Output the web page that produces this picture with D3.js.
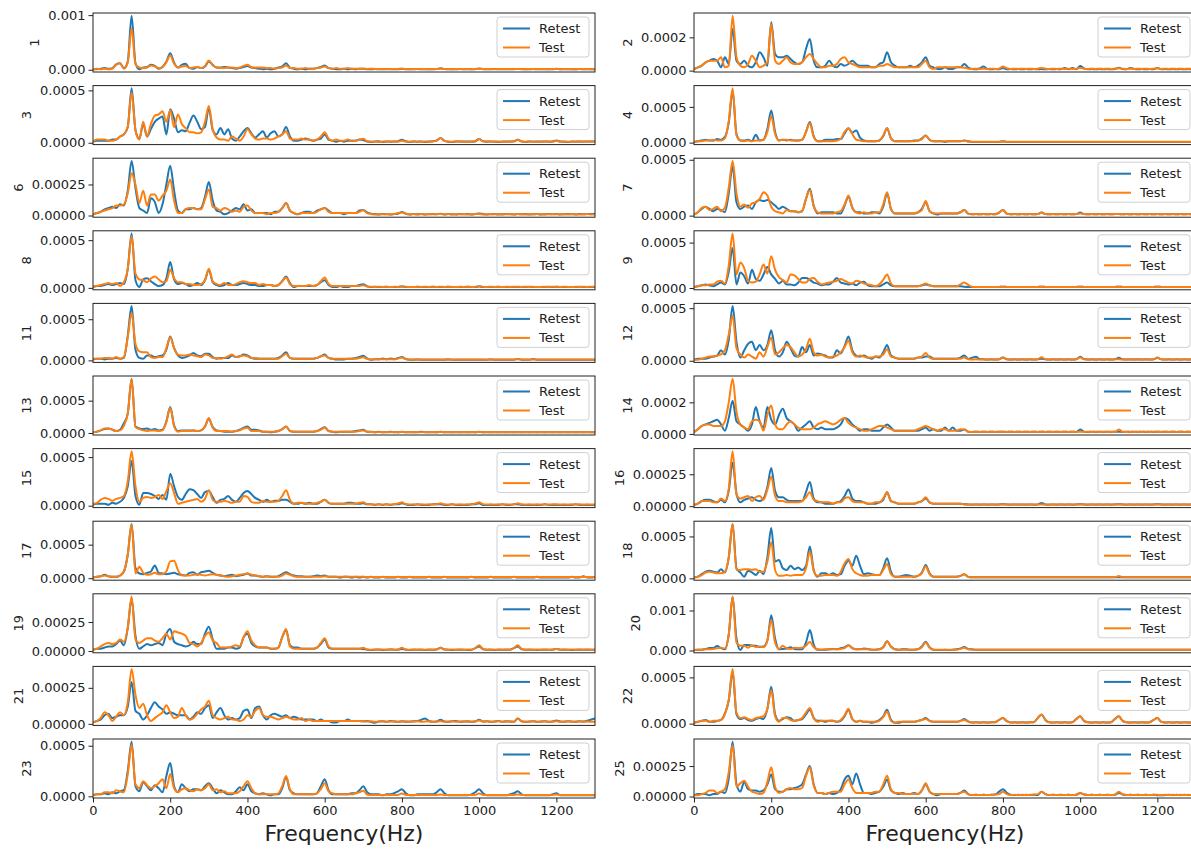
<!DOCTYPE html>
<html>
<head>
<meta charset="utf-8">
<script src="https://cdn.jsdelivr.net/npm/d3@7"></script>
<style>
  body { margin: 0; background: #fff; }
  text { font-family: "DejaVu Sans", sans-serif; }
</style>
</head>
<body>
<svg id="chart" width="1191" height="850"></svg>
<script>
// Spectra are sampled every 10 Hz from 0 to 1300 Hz; amplitudes are in micro-units (x 1e-6).
const UNIT = 1e-6;
const freqs = d3.range(0, 1310, 10);
const xTickValues = [0, 200, 400, 600, 800, 1000, 1200];
const seriesNames = ["Retest", "Test"];
const seriesColors = ["#1f77b4", "#ff7f0e"];

const leftIds = [1, 3, 6, 8, 11, 13, 15, 17, 19, 21, 23];
const rightIds = [2, 4, 7, 9, 12, 14, 16, 18, 20, 22, 25];

const yTickLabels = {
  1: ["0.000", "0.001"], 2: ["0.0000", "0.0002"], 3: ["0.0000", "0.0005"], 4: ["0.0000", "0.0005"],
  6: ["0.00000", "0.00025"], 7: ["0.0000", "0.0005"], 8: ["0.0000", "0.0005"], 9: ["0.0000", "0.0005"],
  11: ["0.0000", "0.0005"], 12: ["0.0000", "0.0005"], 13: ["0.0000", "0.0005"], 14: ["0.0000", "0.0002"],
  15: ["0.0000", "0.0005"], 16: ["0.00000", "0.00025"], 17: ["0.0000", "0.0005"], 18: ["0.0000", "0.0005"],
  19: ["0.00000", "0.00025"], 20: ["0.000", "0.001"], 21: ["0.00000", "0.00025"], 22: ["0.0000", "0.0005"],
  23: ["0.0000", "0.0005"], 25: ["0.00000", "0.00025"]
};

// ---- left column ----
const retest1 = [10,10,20,30,20,30,100,120,30,150, 990,120,10,40,50,90,70,20,50,150, 300,130,40,90,110,30,20,50,30,60, 150,90,40,40,50,40,30,20,30,50, 70,40,30,20,10,20,10,20,40,60, 120,40,20,10,20,10,20,20,30,50, 80,30,20,10,10,20,10,20,10,20, 20,10,8,12,10,8,12,10,8,10, 20,10,8,10,12,10,8,10,10,15, 28,12,8,10,10,12,10,8,10,10, 24,10,8,10,12,10,8,10,10,10, 15,10,8,10,12,10,10,8,10,10, 18,10,8,10,10,10,12,8,10,10, 10];
const test1 = [10,20,10,20,10,20,90,120,20,130, 760,100,40,30,40,80,60,30,50,140, 260,110,40,60,70,30,40,50,30,70, 170,80,40,30,30,40,40,30,40,70, 90,50,40,40,40,30,30,20,30,40, 80,30,30,20,20,30,20,20,30,40, 60,30,20,30,20,20,30,20,20,20, 20,15,20,14,12,15,10,14,12,15, 18,14,10,14,16,12,14,10,12,16, 18,15,14,10,14,16,12,14,10,14, 16,14,12,15,10,14,12,15,12,14, 16,14,10,14,15,12,14,14,10,15, 14,10,14,15,12,10,14,12,14,10, 10];

const retest3 = [10,20,20,20,20,30,30,60,80,150, 520,120,40,180,60,130,200,230,250,80, 320,230,100,120,110,190,260,200,130,150, 330,120,80,140,80,130,40,20,60,110, 140,90,50,80,110,50,90,110,60,80, 150,60,20,20,30,40,30,20,30,40, 80,30,20,10,20,10,20,20,20,30, 25,12,8,12,14,8,12,10,12,15, 28,14,8,12,10,12,8,12,14,22, 45,18,10,8,12,12,10,12,10,15, 35,14,10,12,10,8,12,10,12,14, 28,12,8,12,10,12,10,12,10,12, 22,12,10,8,12,10,12,10,12,12, 12];
const test3 = [10,30,30,30,20,20,30,60,80,150, 480,120,30,200,60,180,260,270,300,200, 310,150,270,180,140,100,100,90,100,200, 350,130,50,30,30,20,60,40,20,60, 130,80,40,30,40,40,30,40,60,80, 110,40,30,30,40,30,30,20,30,60, 100,40,20,30,20,20,30,20,20,30, 38,15,12,10,8,12,10,12,10,12, 18,12,10,12,10,8,12,10,12,20, 45,18,12,10,12,10,12,8,12,12, 35,14,12,10,12,12,8,12,10,12, 28,12,10,12,10,8,12,10,12,12, 18,10,12,10,8,12,10,12,10,12, 12];

const retest6 = [10,20,30,50,60,70,60,90,80,200, 440,220,60,40,20,140,110,20,90,250, 400,200,40,20,50,50,60,50,60,150, 270,120,40,30,10,20,40,60,50,90, 40,50,20,20,20,20,10,30,30,60, 100,40,20,10,20,30,30,20,40,50, 60,40,20,20,20,10,20,20,20,40, 45,25,15,12,8,12,10,8,12,15, 28,14,8,12,10,12,8,10,12,10, 14,8,12,10,8,12,10,12,8,12, 16,12,8,10,12,8,10,12,10,8, 12,10,12,8,10,12,8,10,12,10, 12,8,10,12,10,8,12,10,12,12, 14];
const test6 = [10,20,30,40,50,60,80,80,90,180, 340,250,100,200,80,170,170,120,160,200, 290,120,20,20,50,60,60,50,50,130, 210,70,60,40,60,50,30,40,30,70, 80,40,20,20,20,10,20,20,30,60, 100,40,20,10,20,20,20,20,30,50, 60,30,20,20,20,20,20,20,20,30, 42,18,12,8,12,10,12,10,12,20, 25,14,10,12,8,12,10,12,10,12, 12,10,12,8,12,10,12,8,10,12, 12,8,10,12,10,12,8,10,12,10, 12,10,8,12,10,12,10,8,10,12, 10,12,10,8,12,10,8,10,12,8, 8];

const retest8 = [10,20,20,30,40,30,40,50,40,200, 570,80,10,90,100,70,40,20,30,100, 270,90,40,50,40,20,30,50,30,80, 190,60,30,20,30,50,30,30,40,50, 40,30,30,20,20,30,30,20,30,70, 120,50,10,20,20,20,20,20,30,60, 80,30,10,10,20,10,10,20,20,30, 38,16,8,12,8,8,12,8,8,8, 14,8,8,8,12,8,8,8,12,8, 8,8,12,8,8,8,8,12,8,8, 14,8,8,8,8,12,8,8,8,8, 8,8,8,12,8,8,8,8,12,8, 12,8,8,8,8,8,12,8,8,8, 8];
const test8 = [10,20,30,40,50,40,50,20,60,200, 540,150,90,80,60,100,120,90,60,70, 190,100,60,60,40,40,30,30,40,80, 200,70,40,30,50,30,30,40,60,70, 60,50,50,30,40,30,30,20,30,70, 110,40,20,20,20,20,30,20,30,70, 110,40,20,20,20,20,20,20,20,20, 28,14,12,10,12,10,12,8,12,10, 18,12,10,8,12,10,12,10,12,10, 12,10,12,10,8,12,10,12,10,12, 20,12,10,12,10,12,8,12,10,12, 12,10,12,10,12,8,10,12,10,12, 12,10,12,10,8,12,10,12,10,12, 12];

const retest11 = [10,20,20,10,20,20,30,20,30,300, 660,130,30,20,60,60,40,50,60,130, 290,150,60,30,40,60,90,60,50,80, 80,40,20,30,30,30,60,40,50,70, 60,30,20,20,20,20,20,20,30,60, 100,30,20,20,20,20,20,20,30,50, 70,30,20,10,10,10,20,20,30,40, 55,25,8,14,14,22,14,22,16,28, 42,16,8,8,12,8,8,8,8,8, 8,8,12,8,8,8,8,8,8,8, 8,8,8,12,8,8,8,8,8,8, 16,8,8,8,16,8,8,8,8,8, 8,8,8,8,8,8,8,8,8,8, 8];
const test11 = [20,20,20,30,30,20,40,20,40,280, 580,200,110,100,100,40,30,40,40,150, 280,150,70,60,60,70,60,50,40,70, 60,30,30,20,30,50,70,40,50,60, 50,30,30,20,20,20,20,20,20,50, 80,30,20,20,20,20,20,20,30,50, 60,30,20,20,20,20,20,20,20,30, 38,16,12,14,12,14,12,14,12,22, 36,14,12,10,8,12,10,12,10,12, 12,10,12,8,12,10,12,10,12,10, 12,10,8,12,10,12,10,12,10,12, 14,12,10,12,10,12,10,12,10,12, 12,10,12,10,12,10,12,10,12,10, 10];

const retest13 = [10,20,40,60,70,50,30,50,150,300, 840,100,70,60,70,50,60,40,50,180, 400,120,30,40,40,40,40,30,40,100, 220,90,40,30,20,20,20,30,50,80, 100,50,50,40,20,20,10,20,30,60, 100,30,20,20,20,20,20,20,30,60, 90,30,20,10,20,20,20,20,30,40, 50,20,20,10,20,10,10,20,10,10, 20,10,10,10,10,20,10,10,10,10, 20,10,10,10,10,10,10,10,10,10, 20,10,10,10,10,10,10,10,10,10, 10,10,10,10,10,10,10,10,10,10, 10,10,10,10,10,10,10,10,10,10, 10];
const test13 = [10,20,40,70,70,50,30,40,110,300, 830,90,60,40,30,40,40,30,40,170, 390,100,20,30,30,30,40,30,40,100, 230,80,30,30,30,30,20,30,40,70, 80,30,30,30,20,20,20,20,30,60, 100,30,20,20,20,20,20,20,30,50, 80,30,20,20,20,20,20,20,20,30, 40,18,14,12,14,12,14,12,14,12, 16,12,14,12,14,12,14,12,14,12, 16,12,14,12,14,12,14,12,14,12, 16,12,14,12,14,12,14,12,14,12, 14,12,14,12,14,12,14,12,14,12, 14,12,14,12,14,12,14,12,14,12, 12];

const retest15 = [10,20,20,20,10,30,20,40,80,200, 460,100,10,130,130,120,100,70,110,60, 330,200,90,60,120,170,160,120,80,140, 150,90,30,60,70,100,60,40,80,130, 150,120,80,60,40,60,40,50,50,60, 60,40,20,20,30,20,30,20,20,40, 60,30,20,20,20,20,30,30,20,20, 25,14,14,8,14,8,14,8,14,14, 25,14,8,8,14,8,8,8,14,14, 16,8,8,14,8,8,8,8,14,16, 25,8,8,8,8,8,14,8,8,14, 16,8,8,8,8,8,8,14,8,8, 8,8,8,8,8,14,8,8,8,8, 8];
const test15 = [20,30,60,80,70,50,70,80,100,250, 560,200,40,80,90,80,90,110,70,150, 230,130,20,30,40,50,60,70,40,70, 160,60,40,40,50,40,30,40,40,100, 90,40,30,30,50,40,40,40,50,100, 160,60,20,30,30,20,20,20,30,40, 60,30,20,20,20,20,20,20,20,30, 35,16,14,12,14,12,14,12,14,22, 35,16,12,14,12,14,12,14,12,14, 25,14,12,14,12,14,12,14,12,22, 35,16,12,14,12,14,12,14,12,14, 25,14,12,14,12,14,12,14,12,14, 14,12,14,12,14,12,14,12,14,12, 12];

const retest17 = [10,20,30,50,30,20,20,40,100,350, 810,150,70,60,80,100,190,80,70,60, 70,80,60,50,40,80,90,50,90,100, 110,80,50,40,30,40,50,30,40,50, 70,40,40,30,20,30,20,20,30,60, 90,60,40,30,30,20,20,30,40,30, 40,20,20,20,10,20,20,10,20,10, 20,10,20,10,10,20,10,10,10,20, 10,10,20,10,10,10,10,20,10,10, 10,20,10,10,10,10,10,10,20,10, 10,10,10,20,10,10,10,10,10,20, 10,10,10,10,10,20,10,10,10,10, 10,10,10,10,20,10,10,30,10,10, 20];
const test17 = [10,20,30,40,30,20,20,40,100,350, 800,70,170,80,50,60,80,60,60,100, 250,260,120,40,40,40,50,60,50,40, 50,60,50,40,30,20,30,40,50,60, 70,50,40,30,20,30,20,20,20,40, 70,50,30,20,20,20,20,20,20,20, 30,20,20,20,20,20,20,20,20,20, 20,18,16,18,16,18,16,18,16,18, 16,18,16,18,16,18,16,18,16,18, 16,18,16,18,16,18,16,18,16,18, 16,18,16,18,16,18,16,18,16,18, 16,18,16,18,16,18,16,18,16,18, 16,18,16,18,16,18,16,18,16,18, 16];

const retest19 = [10,20,20,30,40,40,60,90,50,200, 450,130,20,40,60,50,60,70,50,150, 190,80,60,50,40,50,80,60,60,150, 210,100,20,20,20,30,30,20,30,120, 150,70,40,30,30,30,20,20,30,120, 180,50,30,30,20,20,20,20,30,60, 100,30,20,20,20,20,20,20,20,20, 18,12,8,12,14,8,12,14,12,12, 18,12,8,12,12,12,8,12,12,14, 28,14,12,8,12,12,12,8,12,25, 40,16,12,12,8,12,12,12,12,25, 40,16,12,12,12,8,12,12,12,12, 18,12,12,12,8,12,12,12,12,12, 12];
const test19 = [10,20,40,60,70,60,70,100,80,200, 470,100,70,90,110,110,90,80,110,150, 100,170,160,150,130,70,60,40,70,130, 160,90,70,30,30,30,40,50,40,120, 170,90,50,30,30,30,20,20,30,120, 190,40,20,20,20,20,20,20,30,70, 110,40,20,20,20,20,20,20,20,20, 28,14,12,14,12,14,12,14,12,14, 28,14,12,14,12,14,12,14,12,16, 28,14,12,14,12,14,12,14,12,25, 50,18,12,14,12,14,12,14,12,25, 50,18,12,14,12,14,12,14,12,14, 18,12,14,12,14,12,14,12,14,12, 12];

const retest21 = [10,20,30,60,70,40,50,60,60,120, 290,90,70,30,60,110,150,120,100,70, 80,70,60,60,60,30,50,80,70,110, 130,40,80,110,60,30,40,30,40,90, 100,40,110,120,60,30,60,70,60,50, 60,40,50,40,30,30,30,30,20,30, 20,20,10,10,20,20,30,20,20,20, 18,20,14,8,16,18,14,20,16,14, 18,14,16,18,20,28,38,20,14,16, 28,16,14,18,20,14,16,18,14,16, 28,16,18,14,16,20,14,18,16,14, 38,18,14,16,18,14,16,18,14,16, 24,16,14,18,16,14,18,16,22,30, 38];
const test21 = [10,20,40,80,60,20,50,80,60,150, 380,200,110,140,60,20,40,60,80,130, 80,40,50,110,60,30,40,70,100,120, 160,60,40,30,40,50,30,30,20,30, 60,50,90,110,60,50,50,40,30,40, 50,40,30,30,40,20,30,20,20,20, 20,20,20,20,20,20,20,20,20,20, 18,16,18,14,16,18,14,16,18,14, 16,18,14,16,18,14,16,18,14,16, 18,14,16,18,14,16,18,14,16,18, 24,16,18,14,16,18,14,16,18,14, 38,18,14,16,18,14,16,18,14,16, 18,14,16,18,14,16,18,14,16,14, 14];

const retest23 = [10,20,20,30,20,40,30,50,60,250, 540,100,50,140,100,60,110,80,40,200, 330,100,40,120,80,50,70,70,60,100, 130,80,30,60,40,20,20,50,90,60, 120,50,30,20,30,20,10,20,20,80, 190,60,30,20,20,20,20,20,30,100, 170,60,20,20,20,20,20,30,30,60, 100,40,20,20,20,10,20,20,30,50, 70,30,10,10,20,20,20,20,20,40, 70,30,10,10,10,10,10,10,20,40, 70,30,10,10,10,10,10,10,20,30, 50,20,10,10,10,10,10,10,10,20, 30,10,10,10,10,10,10,10,10,10, 10];
const test23 = [10,20,20,40,40,30,60,50,40,220, 510,120,80,150,110,80,100,130,170,80, 220,80,40,70,80,60,50,70,60,80, 120,60,70,40,50,30,30,30,50,100, 150,80,30,20,20,20,20,20,30,100, 200,70,20,20,20,20,20,20,30,70, 130,50,30,20,20,20,20,20,30,40, 55,18,12,14,12,14,12,14,12,14, 28,14,12,14,12,14,12,14,12,14, 18,14,12,14,12,14,12,14,12,14, 28,14,12,14,12,14,12,14,12,14, 18,14,12,14,12,14,12,14,12,14, 18,12,14,12,14,12,14,12,14,12, 12];

// ---- right column ----
const retest2 = [10,20,30,50,60,70,60,20,80,40, 250,60,40,60,30,20,50,110,80,30, 290,100,80,80,90,70,50,40,50,130, 190,60,20,20,30,60,30,20,40,30, 40,60,40,30,30,30,20,20,40,50, 110,50,30,20,20,20,30,20,30,50, 80,30,20,10,10,20,10,10,20,20, 40,18,10,8,14,25,10,8,10,8, 16,8,10,8,10,8,10,8,10,8, 10,8,10,8,10,8,16,8,16,8, 28,14,8,10,8,10,8,10,8,10, 18,10,8,16,10,8,10,8,10,8, 16,8,10,8,10,8,10,8,10,8, 10];
const test2 = [10,20,30,50,60,60,60,80,20,30, 330,80,30,20,40,90,60,20,30,50, 280,60,40,60,80,50,40,40,50,80, 100,70,40,20,20,30,30,40,70,80, 50,40,30,20,20,20,20,20,30,30, 40,30,20,20,20,20,20,20,20,40, 60,20,10,20,20,20,20,20,20,20, 18,12,10,12,10,12,10,12,10,12, 25,14,10,12,10,12,10,12,10,12, 16,12,10,12,10,12,10,12,10,12, 16,12,10,12,10,12,10,12,10,12, 14,12,10,12,10,12,10,12,10,12, 14,10,12,10,12,10,12,10,12,10, 12];

const retest4 = [10,20,30,40,30,30,50,40,80,280, 720,120,30,30,40,20,110,30,40,190, 450,150,30,40,30,40,30,30,40,150, 290,90,20,20,40,40,40,50,50,130, 200,140,170,70,30,20,20,20,30,90, 200,60,20,20,20,20,20,30,30,60, 100,40,20,20,20,10,20,20,20,20, 30,20,10,10,10,10,10,10,10,10, 20,10,10,10,10,10,10,10,10,10, 10,10,10,10,10,10,10,10,10,10, 10,10,10,10,10,10,10,10,10,10, 10,10,10,10,10,10,10,10,10,10, 10,10,10,10,10,10,10,10,10,10, 10];
const test4 = [10,20,20,30,30,40,30,30,60,300, 760,100,30,20,30,20,30,30,40,150, 370,120,30,40,40,30,30,30,40,150, 270,80,20,20,20,20,20,30,50,150, 200,120,40,30,20,20,20,20,30,100, 200,60,20,20,20,20,20,20,30,50, 100,40,20,20,20,20,20,20,20,20, 30,14,12,14,12,14,12,14,12,14, 14,12,14,12,14,12,14,12,14,12, 14,12,14,12,14,12,14,12,14,12, 14,12,14,12,14,12,14,12,14,12, 14,12,14,12,14,12,14,12,14,12, 14,12,14,12,14,12,14,12,14,12, 12];

const retest7 = [10,30,60,80,60,40,60,50,30,200, 440,120,60,80,90,60,120,140,130,140, 120,90,60,80,60,40,40,30,40,150, 240,90,20,30,30,30,30,20,20,90, 170,70,30,30,20,20,30,30,20,80, 200,60,20,20,20,20,20,20,30,60, 120,40,20,10,20,20,20,20,20,30, 50,18,12,14,12,14,12,14,12,28, 50,18,12,14,12,14,12,14,12,14, 28,14,12,14,12,14,12,14,12,14, 28,14,12,14,12,14,12,14,12,14, 14,12,14,12,14,12,14,12,14,12, 14,12,14,12,14,12,14,12,14,12, 12];
const test7 = [10,30,70,80,50,60,80,40,70,250, 490,200,80,100,70,110,120,150,210,180, 80,40,30,20,50,40,40,30,40,150, 230,80,30,20,20,20,20,30,40,100, 180,70,30,20,30,20,20,30,30,100, 210,60,20,20,20,20,20,20,30,50, 130,40,20,20,20,20,20,20,20,30, 50,18,12,14,12,14,12,14,12,28, 50,18,12,14,12,14,12,14,12,14, 28,14,12,14,12,14,12,14,12,14, 18,14,12,14,12,14,12,14,12,14, 14,12,14,12,14,12,14,12,14,12, 14,12,14,12,14,12,14,12,14,12, 12];

const retest9 = [10,20,30,40,30,20,40,60,40,180, 440,40,170,130,50,200,100,80,150,230, 150,100,50,80,40,40,30,60,110,110, 90,60,50,30,40,40,70,110,60,50, 40,50,30,60,70,30,20,20,20,40, 60,30,20,20,20,20,20,20,20,30, 40,30,20,20,20,20,20,20,20,20, 14,12,10,12,10,12,10,12,10,12, 14,12,10,12,10,12,10,12,10,12, 14,12,10,12,10,12,10,12,10,12, 14,12,10,12,10,12,10,12,10,12, 14,12,10,12,10,12,10,12,10,12, 14,12,10,12,10,12,10,12,10,12, 12];
const test9 = [10,20,30,30,40,40,70,80,50,250, 600,150,280,220,80,60,70,150,260,160, 350,200,120,90,60,150,140,100,60,60, 100,110,70,40,50,60,70,80,100,80, 60,50,80,70,50,40,30,20,40,90, 150,50,20,20,20,20,20,20,20,30, 50,30,20,20,20,20,20,20,20,40, 60,35,14,12,10,12,10,12,10,12, 14,12,10,12,10,12,10,12,10,12, 14,12,10,12,10,12,10,12,10,12, 14,12,10,12,10,12,10,12,10,12, 14,12,10,12,10,12,10,12,10,12, 14,12,10,12,10,12,10,12,10,12, 12];

const retest12 = [10,20,20,20,30,40,50,100,60,200, 520,180,30,100,160,180,100,150,100,150, 290,100,40,80,180,120,50,40,130,80, 150,50,70,60,50,30,30,100,70,140, 230,100,50,40,50,30,20,40,30,80, 150,50,30,20,20,20,20,20,30,30, 40,40,20,20,20,20,20,20,20,30, 50,18,28,38,16,14,12,14,12,14, 30,14,12,14,12,14,12,14,12,14, 20,14,12,14,12,14,12,14,12,14, 38,16,12,14,12,14,12,14,12,14, 28,14,12,14,12,14,12,14,12,14, 28,14,12,14,12,14,12,14,12,14, 12];
const test12 = [10,10,20,30,40,40,50,60,100,250, 430,120,60,30,60,40,20,80,40,130, 220,60,80,120,150,130,80,40,60,110, 210,80,50,60,40,30,40,50,80,130, 190,80,40,50,40,30,30,40,40,60, 110,40,30,20,20,20,20,20,30,40, 75,30,20,20,20,20,20,20,20,20, 30,14,12,14,12,14,12,14,12,14, 30,14,12,14,12,14,12,14,12,14, 33,14,12,14,12,14,12,14,12,14, 30,14,12,14,12,14,12,14,12,14, 14,12,14,12,14,12,14,12,14,12, 30,14,12,14,12,14,12,14,12,14, 12];

const retest14 = [10,30,50,60,70,80,90,60,20,100, 210,80,60,40,20,60,170,80,40,170, 90,60,120,160,100,80,60,20,40,60, 80,40,30,40,30,30,30,40,60,100, 90,60,40,20,30,30,20,20,20,40, 60,40,20,20,20,20,20,20,20,30, 40,20,30,20,20,40,20,40,20,20, 28,14,12,14,12,14,12,14,12,14, 14,12,14,12,14,12,14,12,14,12, 14,12,14,12,14,12,14,12,14,12, 28,14,12,14,12,14,12,14,12,14, 14,12,14,12,14,12,14,12,14,12, 14,12,14,12,14,12,14,12,14,12, 12];
const test14 = [10,30,50,60,60,50,50,50,80,200, 350,140,60,40,30,80,90,80,20,120, 180,60,30,30,60,80,60,40,30,30, 30,40,60,70,80,70,60,70,90,100, 70,50,40,30,20,20,30,40,50,50, 40,30,20,20,20,20,20,20,30,40, 50,40,30,20,30,30,20,20,20,30, 28,14,12,14,12,14,12,14,12,14, 14,12,14,12,14,12,14,12,14,12, 14,12,14,12,14,12,14,12,14,12, 14,12,14,12,14,12,14,12,14,12, 28,14,12,14,12,14,12,14,12,14, 14,12,14,12,14,12,14,12,14,12, 12];

const retest16 = [10,20,40,50,50,40,30,50,30,120, 340,100,30,50,60,70,50,40,60,150, 300,120,70,70,50,40,40,40,40,110, 190,60,30,30,20,20,20,30,40,80, 130,60,40,40,30,20,20,20,30,50, 110,40,30,20,20,20,20,20,30,40, 60,30,20,20,20,20,20,20,20,20, 16,14,12,14,12,14,12,14,12,14, 16,14,12,14,12,14,12,14,12,14, 25,14,12,14,12,14,12,14,12,14, 16,14,12,14,12,14,12,14,12,14, 16,14,12,14,12,14,12,14,12,14, 16,14,12,14,12,14,12,14,12,14, 14];
const test16 = [10,20,40,40,40,30,30,60,40,140, 430,90,60,70,80,40,70,80,50,130, 230,80,40,40,30,30,30,30,40,70, 110,50,40,30,30,30,20,30,30,60, 70,40,30,30,30,20,20,30,30,60, 110,40,30,20,20,20,20,20,30,40, 70,30,20,20,20,20,20,20,20,20, 14,12,14,12,14,12,14,12,14,12, 14,12,14,12,14,12,14,12,14,12, 14,12,14,12,14,12,14,12,14,12, 14,12,14,12,14,12,14,12,14,12, 14,12,14,12,14,12,14,12,14,12, 14,12,14,12,14,12,14,12,14,12, 12];

const retest18 = [10,20,50,80,90,80,70,110,70,250, 650,120,70,20,90,70,40,90,50,250, 600,200,220,120,100,150,110,130,100,150, 380,100,20,60,60,40,60,40,50,150, 210,150,270,150,50,60,50,40,40,120, 240,80,20,20,30,40,30,20,30,70, 160,60,20,20,20,20,20,20,20,30, 50,18,12,14,12,14,12,14,12,14, 14,12,14,12,14,12,14,12,14,12, 14,12,14,12,14,12,14,12,14,12, 14,12,14,12,14,12,14,12,14,12, 14,12,14,12,14,12,14,12,14,12, 14,12,14,12,14,12,14,12,14,12, 12];
const test18 = [10,20,40,70,80,70,60,60,80,250, 650,100,100,110,110,100,110,80,80,200, 430,100,30,30,40,30,40,40,40,120, 320,90,30,30,40,40,40,30,80,180, 230,110,60,40,30,30,40,40,40,100, 170,50,20,20,20,20,20,20,30,60, 140,50,20,20,20,20,20,20,20,30, 50,18,12,14,12,14,12,14,12,14, 14,12,14,12,14,12,14,12,14,12, 14,12,14,12,14,12,14,12,14,12, 14,12,14,12,14,12,14,12,14,12, 28,14,12,14,12,14,12,14,12,14, 14,12,14,12,14,12,14,12,14,12, 12];

const retest20 = [10,20,20,40,60,60,110,60,30,400, 1340,300,10,140,140,120,120,90,100,250, 880,300,30,40,50,80,40,30,30,200, 510,150,20,20,20,30,40,30,60,80, 130,60,30,30,50,40,20,20,30,80, 230,100,30,20,30,30,20,20,30,100, 220,80,20,10,10,20,10,20,30,50, 90,40,30,20,20,20,20,20,20,20, 20,20,20,20,20,20,20,20,20,20, 20,20,20,20,20,20,20,20,20,20, 20,20,20,20,20,20,20,20,20,20, 20,20,20,20,20,20,20,20,20,20, 20,20,20,20,20,20,20,20,20,20, 20];
const test20 = [10,20,20,30,30,40,60,70,50,400, 1350,200,120,120,70,130,90,100,80,250, 760,200,40,120,50,40,70,60,70,120, 220,80,30,20,30,30,30,30,40,60, 130,60,30,30,30,30,20,20,30,80, 230,90,30,20,20,20,20,20,30,80, 200,70,20,20,20,20,20,20,20,40, 70,30,20,20,20,20,20,20,20,20, 20,20,20,20,20,20,20,20,20,20, 20,20,20,20,20,20,20,20,20,20, 20,20,20,20,20,20,20,20,20,20, 20,20,20,20,20,20,20,20,20,20, 20,20,20,20,20,20,20,20,20,20, 20];

const retest22 = [10,20,30,40,20,20,30,40,110,250, 560,100,50,60,40,30,50,60,50,160, 400,100,30,50,70,60,30,40,50,100, 150,60,30,30,20,30,30,20,30,80, 150,50,20,30,20,20,10,20,40,80, 150,40,10,10,20,20,20,20,30,40, 60,30,20,20,20,20,20,20,20,30, 50,24,12,14,12,14,12,14,16,40, 60,26,12,14,12,14,12,14,16,60, 100,40,14,12,14,12,14,12,16,50, 80,30,14,12,14,12,14,12,16,50, 80,30,14,12,14,12,14,12,16,40, 60,20,12,14,12,14,12,14,12,12, 12];
const test22 = [10,20,30,30,20,30,30,40,100,260, 590,120,60,70,50,40,60,70,80,160, 360,80,20,60,60,40,30,40,60,120, 170,60,20,30,30,30,30,20,40,90, 160,50,20,30,20,20,20,20,30,70, 130,30,10,20,20,20,20,20,30,40, 50,30,20,20,20,20,20,20,20,30, 40,20,12,14,12,14,12,14,16,40, 60,26,12,14,12,14,12,14,16,60, 100,40,14,12,14,12,14,12,16,50, 80,30,14,12,14,12,14,12,16,50, 80,30,14,12,14,12,14,12,16,40, 60,20,12,14,12,14,12,14,12,12, 12];

const retest25 = [10,20,20,20,10,20,20,40,30,150, 450,100,40,120,60,50,50,40,50,100, 180,60,40,40,60,60,70,80,100,180, 250,100,30,30,20,30,20,30,60,140, 170,100,190,100,30,30,20,30,40,80, 140,50,30,20,30,20,20,30,20,50, 100,40,20,10,20,20,20,20,20,30, 50,20,12,14,12,14,12,14,16,40, 60,30,14,12,14,12,14,12,14,12, 40,20,12,14,12,14,12,14,12,14, 30,16,12,14,12,14,12,14,12,14, 30,16,12,14,12,14,12,14,12,14, 10,10,12,14,12,14,12,14,12,14, 12];
const test25 = [10,10,20,30,50,50,30,40,60,200, 420,80,110,130,80,40,30,20,30,120, 240,80,30,40,60,70,60,60,70,170, 240,90,30,30,20,30,40,40,40,100, 140,70,30,30,30,30,30,40,40,100, 170,60,30,30,20,20,20,20,20,50, 110,40,20,20,20,20,20,20,20,30, 40,18,12,14,12,14,12,14,16,20, 40,20,12,14,12,14,12,14,16,20, 40,20,12,14,12,14,12,14,12,14, 30,16,12,14,12,14,12,14,12,14, 40,18,12,14,12,14,12,14,12,14, 14,12,14,12,14,12,14,12,14,12, 12];

// Pair each subject id with its two spectra (Retest, Test).
const spectra = {
  1: [retest1, test1], 2: [retest2, test2], 3: [retest3, test3], 4: [retest4, test4],
  6: [retest6, test6], 7: [retest7, test7], 8: [retest8, test8], 9: [retest9, test9],
  11: [retest11, test11], 12: [retest12, test12], 13: [retest13, test13], 14: [retest14, test14],
  15: [retest15, test15], 16: [retest16, test16], 17: [retest17, test17], 18: [retest18, test18],
  19: [retest19, test19], 20: [retest20, test20], 21: [retest21, test21], 22: [retest22, test22],
  23: [retest23, test23], 25: [retest25, test25]
};

// ---- layout ----
const columns = [
  { ids: leftIds, x0: 93, x1: 595 },
  { ids: rightIds, x0: 694, x1: 1196 }
];
const firstTop = 13, rowPitch = 72.6, panelH = 59;
const ink = "#222";
const tickFont = 13;

const svg = d3.select("#chart");

columns.forEach(col => {
  col.ids.forEach((id, ri) => {
    const top = firstTop + ri * rowPitch;
    const bottom = top + panelH;
    const series = spectra[id];
    const x = d3.scaleLinear().domain([0, 1300]).range([col.x0, col.x1]);
    const all = series.flat();
    const lo = d3.min(all) * UNIT, hi = d3.max(all) * UNIT;
    const pad = 0.05 * (hi - lo);
    const y = d3.scaleLinear().domain([lo - pad, hi + pad]).range([bottom, top]);

    const g = svg.append("g").attr("class", "panel");
    const clipId = "clip" + id;
    g.append("clipPath").attr("id", clipId)
      .append("rect").attr("x", col.x0).attr("y", top).attr("width", col.x1 - col.x0).attr("height", panelH);

    const line = d3.line()
      .x((d, i) => x(freqs[i]))
      .y(d => y(d * UNIT))
      .curve(d3.curveMonotoneX);

    const plot = g.append("g").attr("clip-path", `url(#${clipId})`);
    series.forEach((vals, si) => {
      plot.append("path")
        .attr("d", line(vals))
        .attr("fill", "none")
        .attr("stroke", seriesColors[si])
        .attr("stroke-width", 2)
        .attr("stroke-linejoin", "round");
    });

    // y axis
    const labels = yTickLabels[id];
    const yAxis = d3.axisLeft(y)
      .tickValues(labels.map(Number))
      .tickFormat((d, i) => labels[i])
      .tickSize(4.5).tickPadding(3).tickSizeOuter(0);
    const ya = g.append("g").attr("transform", `translate(${col.x0},0)`).call(yAxis);
    ya.select(".domain").remove();
    ya.selectAll("line").attr("stroke", ink);
    ya.selectAll("text").attr("fill", ink).attr("font-size", tickFont)
      .attr("font-family", "DejaVu Sans, sans-serif");

    // bottom row carries the frequency axis
    if (ri === col.ids.length - 1) {
      const xAxis = d3.axisBottom(x).tickValues(xTickValues)
        .tickFormat(d3.format("d"))
        .tickSize(4.5).tickPadding(3).tickSizeOuter(0);
      const xa = g.append("g").attr("transform", `translate(0,${bottom})`).call(xAxis);
      xa.select(".domain").remove();
      xa.selectAll("line").attr("stroke", ink);
      xa.selectAll("text").attr("fill", ink).attr("font-size", tickFont)
        .attr("font-family", "DejaVu Sans, sans-serif");
      g.append("text")
        .attr("x", col.x0 + 251)
        .attr("y", bottom + 43)
        .attr("text-anchor", "middle")
        .attr("font-size", 22)
        .attr("fill", ink)
        .text("Frequency(Hz)");
    }

    // frame
    g.append("rect")
      .attr("x", col.x0).attr("y", top)
      .attr("width", col.x1 - col.x0).attr("height", panelH)
      .attr("fill", "none").attr("stroke", ink).attr("stroke-width", 1);

    // panel id as rotated y label, placed just left of the tick labels
    let minX = Infinity;
    ya.selectAll("text").each(function () {
      const b = this.getBBox();
      const m = this.getCTM();
      minX = Math.min(minX, b.x + m.e);
    });
    const cy = (top + bottom) / 2;
    g.append("text")
      .attr("transform", `translate(${minX - 9},${cy}) rotate(-90)`)
      .attr("text-anchor", "middle")
      .attr("font-size", tickFont)
      .attr("fill", ink)
      .text(String(id));

    // legend, upper right
    const lgW = 92, lgH = 40;
    const lgX = col.x1 - 6 - lgW, lgY = top + 4;
    const lg = g.append("g");
    lg.append("rect")
      .attr("x", lgX).attr("y", lgY).attr("width", lgW).attr("height", lgH)
      .attr("rx", 3).attr("fill", "#fff").attr("fill-opacity", 0.85)
      .attr("stroke", "#d0d0d0").attr("stroke-width", 1);
    seriesNames.forEach((name, si) => {
      const rowY = lgY + 11.5 + si * 19;
      lg.append("line")
        .attr("x1", lgX + 6).attr("x2", lgX + 33)
        .attr("y1", rowY).attr("y2", rowY)
        .attr("stroke", seriesColors[si]).attr("stroke-width", 2);
      lg.append("text")
        .attr("x", lgX + 42).attr("y", rowY)
        .attr("dy", "0.35em")
        .attr("font-size", tickFont)
        .attr("fill", ink)
        .text(name);
    });
  });
});
</script>
</body>
</html>
